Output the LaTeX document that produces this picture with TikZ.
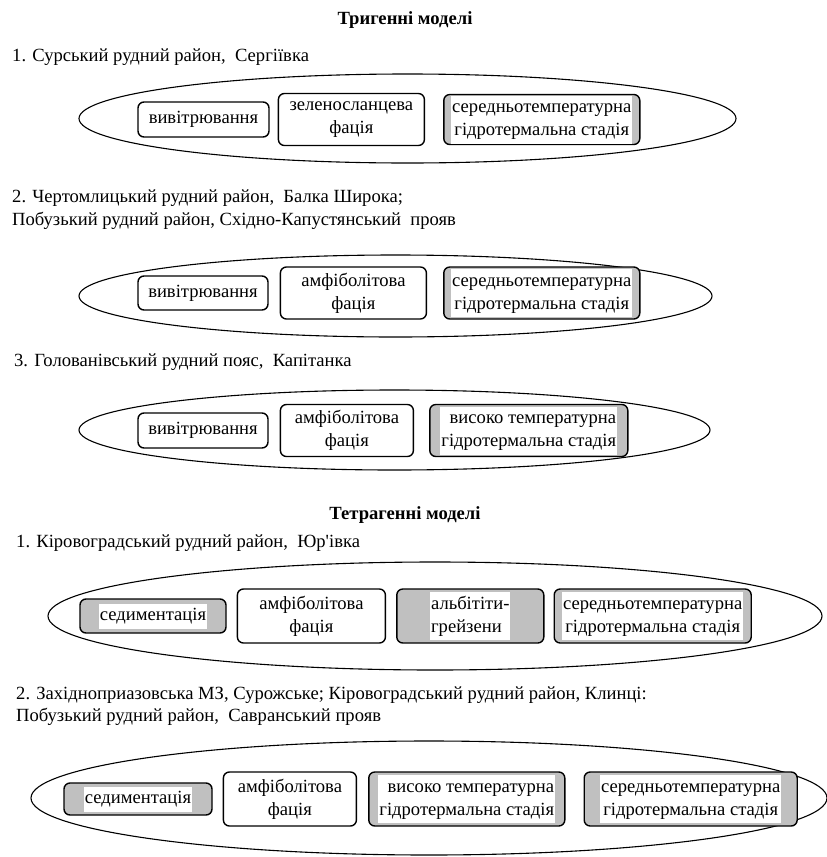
\documentclass[tikz,border=0pt]{standalone}
\usepackage{fontspec}
\setmainfont{Liberation Serif}
\usepackage{tikz}
\usetikzlibrary{positioning,shapes.geometric}
\definecolor{boxgrey}{RGB}{192,192,192}
\newcommand{\wbox}[2][c]{{\setlength{\fboxsep}{1pt}\colorbox{white}{\begin{tabular}{@{}#1@{}}#2\end{tabular}}}}

\begin{document}
\begin{tikzpicture}[x=1pt, y=-1pt,
    every node/.style={font=\fontsize{18.6}{23}\selectfont},
    oval/.style={ellipse, draw, line width=1.1pt, inner sep=0pt},
    plain box/.style={draw, line width=1.4pt, rounded corners=6pt, fill=white, align=center, inner sep=0pt, minimum height=52pt},
    grey box/.style={plain box, fill=boxgrey},
    caption/.style={anchor=west, inner sep=0pt},
    heading/.style={font=\fontsize{18.6}{23}\selectfont\bfseries, inner sep=0pt}]

    \useasboundingbox (0,0) rectangle (827,857);

    % Trigenetic models
    \node[heading] (t1) at (405,20) {Тригенні моделі};
    \node[caption] (c1) at (12,57) {1. Сурський рудний район,~ Сергіївка};

    \node[oval, minimum width=657pt, minimum height=89pt] (e1) at (407.5,118.5) {};
    \node[plain box, minimum width=131pt, minimum height=35pt] (v1) at (203.5,119.5) {вивітрювання};
    \node[plain box, minimum width=146pt] (z1) [right=8pt of v1] {зеленосланцева\\фація};
    \node[grey box, minimum width=196pt, minimum height=50pt] (s1) [right=18pt of z1] {\wbox{середньотемпературна\\гідротермальна стадія}};

    \node[caption] (c2) at (12,198) {2. Чертомлицький рудний район,~ Балка Широка;};
    \node[caption] (c2b) at (12,221) {Побузький рудний район, Східно-Капустянський~ прояв};

    \node[oval, minimum width=633pt, minimum height=82pt] (e2) at (395.5,296) {};
    \node[plain box, minimum width=130pt, minimum height=34pt] (v2) at (203,293) {вивітрювання};
    \node[plain box, minimum width=146pt] (a2) [right=11pt of v2] {амфіболітова\\фація};
    \node[grey box, minimum width=196pt] (s2) [right=16pt of a2] {\wbox{середньотемпературна\\гідротермальна стадія}};

    \node[caption] (c3) at (14,362) {3. Голованівський рудний пояс,~ Капітанка};

    \node[oval, minimum width=631pt, minimum height=80pt] (e3) at (394.5,430) {};
    \node[plain box, minimum width=130pt, minimum height=35pt] (v3) at (203,430.5) {вивітрювання};
    \node[plain box, minimum width=133pt] (a3) [right=11pt of v3] {амфіболітова\\фація};
    \node[grey box, minimum width=198pt] (s3) [right=15pt of a3] {\wbox[r]{високо температурна\\гідротермальна стадія}};

    % Tetragenetic models
    \node[heading] (t2) at (405,515) {Тетрагенні моделі};
    \node[caption] (c4) at (16,543) {1. Кіровоградський рудний район,~ Юр\textquotesingle{}івка};

    \node[oval, minimum width=774pt, minimum height=108pt] (e4) at (435,616) {};
    \node[grey box, minimum width=146pt, minimum height=34pt] (d4) at (153,616) {\wbox{седиментація}};
    \node[plain box, minimum width=148pt, minimum height=54pt] (a4) [right=10pt of d4] {амфіболітова\\фація};
    \node[grey box, minimum width=147pt, minimum height=54pt] (g4) [right=10pt of a4] {\wbox[l]{альбітіти-\\грейзени}};
    \node[grey box, minimum width=197pt, minimum height=54pt] (s4) [right=9pt of g4] {\wbox{середньотемпературна\\гідротермальна стадія}};

    \node[caption] (c5) at (16,695) {2. Західноприазовська МЗ, Сурожське; Кіровоградський рудний район, Клинці:};
    \node[caption] (c5b) at (16,717) {Побузький рудний район,~ Савранський прояв};

    \node[oval, minimum width=796pt, minimum height=114pt] (e5) at (429,798) {};
    \node[grey box, minimum width=148pt, minimum height=32pt] (d5) at (138,799) {\wbox{седиментація}};
    \node[plain box, minimum width=133pt, minimum height=54pt] (a5) [right=10pt of d5] {амфіболітова\\фація};
    \node[grey box, minimum width=196pt, minimum height=54pt] (h5) [right=11pt of a5] {\wbox[r]{високо температурна\\гідротермальна стадія}};
    \node[grey box, minimum width=213pt, minimum height=54pt] (s5) [right=18pt of h5] {\wbox{середньотемпературна\\гідротермальна стадія}};

\end{tikzpicture}
\end{document}
